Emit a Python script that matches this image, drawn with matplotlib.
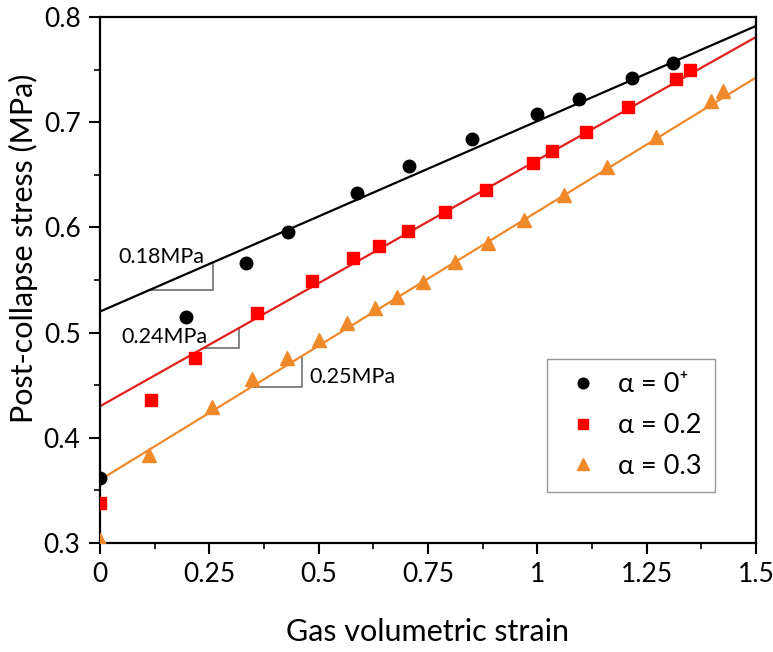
"""Post-collapse stress against gas volumetric strain for three alpha values"""
import numpy as np
import matplotlib.pyplot as plt
from matplotlib.ticker import MultipleLocator

plt.rcParams["font.family"] = ["Lato", "DejaVu Sans"]

# measured points, alpha = 0+
x_a0 = [0.0, 0.197, 0.334, 0.43, 0.588, 0.707, 0.851, 1.0, 1.096, 1.217, 1.311]
y_a0 = [0.362, 0.515, 0.566, 0.596, 0.633, 0.658, 0.684, 0.708, 0.722, 0.742, 0.756]

# alpha = 0.2
x_a2 = [0.0, 0.117, 0.217, 0.359, 0.485, 0.579, 0.638, 0.705, 0.789, 0.883,
        0.989, 1.034, 1.112, 1.208, 1.316, 1.348]
y_a2 = [0.338, 0.436, 0.476, 0.519, 0.549, 0.571, 0.582, 0.597, 0.615, 0.636,
        0.661, 0.673, 0.691, 0.714, 0.741, 0.750]

# alpha = 0.3
x_a3 = [0.0, 0.112, 0.256, 0.348, 0.428, 0.501, 0.565, 0.629, 0.679, 0.739,
        0.812, 0.888, 0.970, 1.06, 1.16, 1.272, 1.396, 1.425]
y_a3 = [0.303, 0.384, 0.429, 0.456, 0.476, 0.493, 0.509, 0.523, 0.534, 0.548,
        0.567, 0.585, 0.607, 0.631, 0.657, 0.686, 0.720, 0.730]

# linear fits: intercept, slope
fit_a0 = (0.52, 0.181)
fit_a2 = (0.43, 0.234)
fit_a3 = (0.36, 0.255)

slope_labels = ["0.18MPa", "0.24MPa", "0.25MPa"]

fig = plt.figure(figsize=(7.73, 6.52), dpi=100)
ax = fig.add_axes([100 / 773, 109 / 652, 656 / 773, 526 / 652])

xs = np.array([0.0, 1.5])
ax.plot(xs, fit_a0[0] + fit_a0[1] * xs, color="black", lw=1.6, zorder=2)
ax.plot(xs, fit_a2[0] + fit_a2[1] * xs, color="#e0201c", lw=1.6, zorder=2)
ax.plot(xs, fit_a3[0] + fit_a3[1] * xs, color="#f0892a", lw=1.6, zorder=2)

ax.plot(x_a0, y_a0, "o", color="black", ms=9, ls="none", label="α = 0⁺",
        zorder=3)
ax.plot(x_a2, y_a2, "s", color="#ff0000", ms=8, ls="none", label="α = 0.2",
        zorder=3)
ax.plot(x_a3, y_a3, "^", color="#f0892a", ms=10, ls="none", label="α = 0.3",
        zorder=3)

# slope triangles under each fit line
def slope_mark(fit, x0, x1, label, tx, ty):
    y0 = fit[0] + fit[1] * x0
    y1 = fit[0] + fit[1] * x1
    ax.plot([x0, x1, x1], [y0, y0, y1], color="#6e6e6e", lw=1.2, zorder=1)
    ax.text(tx, ty, label, fontsize=15.5, va="center", ha="left")

slope_mark(fit_a0, 0.112, 0.259, slope_labels[0], 0.043, 0.572)
slope_mark(fit_a2, 0.236, 0.318, slope_labels[1], 0.048, 0.496)
slope_mark(fit_a3, 0.348, 0.462, slope_labels[2], 0.478, 0.458)

ax.set_xlim(0, 1.5)
ax.set_ylim(0.3, 0.8)
ax.set_xticks([0, 0.25, 0.5, 0.75, 1, 1.25, 1.5])
ax.set_xticklabels(["0", "0.25", "0.5", "0.75", "1", "1.25", "1.5"])
ax.set_yticks([0.3, 0.4, 0.5, 0.6, 0.7, 0.8])
ax.set_yticklabels(["0.3", "0.4", "0.5", "0.6", "0.7", "0.8"])
ax.xaxis.set_minor_locator(MultipleLocator(0.125))
ax.yaxis.set_minor_locator(MultipleLocator(0.05))
ax.tick_params(which="major", direction="out", length=8, width=1.5,
               labelsize=19, pad=6)
ax.tick_params(which="minor", direction="out", length=4.5, width=1.2)
for sp in ax.spines.values():
    sp.set_linewidth(1.6)

ax.set_xlabel("Gas volumetric strain", fontsize=22, labelpad=22)
ax.set_ylabel("Post-collapse stress (MPa)", fontsize=22)
ax.yaxis.set_label_coords(-0.094, 0.561)

leg = ax.legend(loc="upper left", bbox_to_anchor=(0.681, 0.350),
                borderaxespad=0, fontsize=19.5, frameon=True, fancybox=False,
                edgecolor="#808080", handlelength=1.7, handletextpad=0.42,
                labelspacing=0.58, borderpad=0.5, markerscale=0.85)
leg.get_frame().set_linewidth(1.0)

fig.savefig("out.png", dpi=100)
